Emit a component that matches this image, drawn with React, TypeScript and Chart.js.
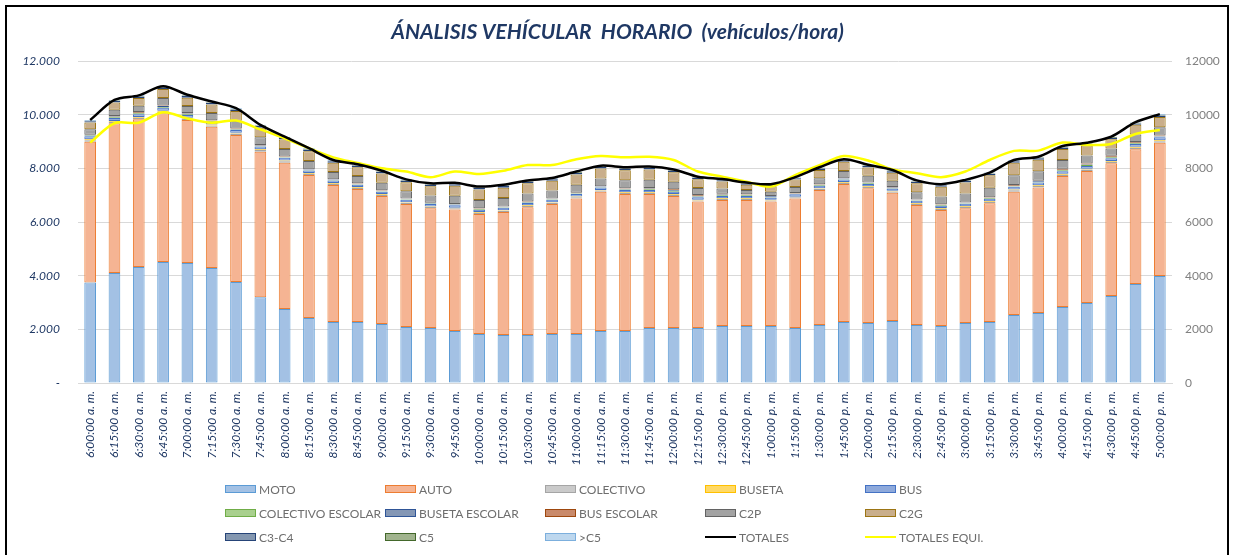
import React, { useEffect, useRef } from "react";
import { Chart, registerables } from "chart.js";

Chart.register(...registerables);

const FONT = "Lato, 'Open Sans', 'DejaVu Sans', sans-serif";
const NAVY = "#1F3864";

const categories = [
  "6:00:00 a. m.", "6:15:00 a. m.", "6:30:00 a. m.", "6:45:00 a. m.",
  "7:00:00 a. m.", "7:15:00 a. m.", "7:30:00 a. m.", "7:45:00 a. m.",
  "8:00:00 a. m.", "8:15:00 a. m.", "8:30:00 a. m.", "8:45:00 a. m.",
  "9:00:00 a. m.", "9:15:00 a. m.", "9:30:00 a. m.", "9:45:00 a. m.",
  "10:00:00 a. m.", "10:15:00 a. m.", "10:30:00 a. m.", "10:45:00 a. m.",
  "11:00:00 a. m.", "11:15:00 a. m.", "11:30:00 a. m.", "11:45:00 a. m.",
  "12:00:00 p. m.", "12:15:00 p. m.", "12:30:00 p. m.", "12:45:00 p. m.",
  "1:00:00 p. m.", "1:15:00 p. m.", "1:30:00 p. m.", "1:45:00 p. m.",
  "2:00:00 p. m.", "2:15:00 p. m.", "2:30:00 p. m.", "2:45:00 p. m.",
  "3:00:00 p. m.", "3:15:00 p. m.", "3:30:00 p. m.", "3:45:00 p. m.",
  "4:00:00 p. m.", "4:15:00 p. m.", "4:30:00 p. m.", "4:45:00 p. m.",
  "5:00:00 p. m.",
];

const moto = [3750, 4100, 4320, 4510, 4470, 4290, 3760, 3200, 2760, 2420, 2270, 2270, 2200, 2090, 2050, 1940, 1830, 1790, 1790, 1830, 1830, 1940, 1940, 2050, 2050, 2050, 2120, 2120, 2120, 2050, 2160, 2270, 2240, 2310, 2160, 2120, 2240, 2270, 2530, 2610, 2830, 2980, 3240, 3690, 3990];
const auto = [5240, 5580, 5510, 5540, 5330, 5260, 5480, 5420, 5450, 5330, 5110, 4960, 4770, 4580, 4460, 4530, 4470, 4580, 4760, 4840, 5050, 5190, 5100, 4990, 4920, 4710, 4700, 4700, 4640, 4830, 5030, 5150, 5020, 4780, 4470, 4330, 4270, 4430, 4600, 4680, 4880, 4920, 4950, 5020, 4960];
const colectivo = [60, 55, 55, 60, 55, 50, 55, 60, 55, 50, 50, 45, 45, 45, 45, 40, 45, 45, 45, 45, 45, 40, 40, 40, 45, 45, 40, 40, 40, 40, 45, 45, 45, 45, 45, 45, 50, 50, 50, 50, 55, 55, 55, 55, 60];
const buseta = [35, 30, 30, 35, 30, 30, 30, 30, 30, 25, 25, 25, 25, 25, 25, 25, 25, 25, 25, 25, 25, 25, 25, 25, 25, 25, 25, 25, 25, 25, 25, 25, 25, 25, 25, 25, 25, 25, 30, 30, 30, 30, 30, 35, 35];
const bus = [110, 110, 105, 110, 105, 100, 100, 100, 95, 95, 90, 90, 90, 90, 90, 90, 90, 90, 90, 90, 90, 90, 90, 90, 90, 90, 85, 85, 85, 85, 90, 90, 90, 90, 90, 90, 95, 95, 100, 100, 100, 105, 105, 110, 110];
const colectivoEscolar = [25, 30, 30, 35, 30, 25, 25, 25, 20, 20, 20, 20, 20, 20, 20, 20, 20, 20, 20, 20, 20, 20, 20, 25, 30, 30, 30, 25, 25, 20, 25, 25, 25, 20, 20, 20, 20, 20, 25, 25, 30, 30, 30, 25, 25];
const busetaEscolar = [20, 25, 25, 30, 25, 20, 20, 15, 15, 15, 15, 15, 15, 15, 15, 15, 15, 15, 15, 15, 15, 15, 20, 25, 30, 30, 25, 20, 20, 15, 15, 15, 15, 15, 15, 15, 15, 15, 20, 20, 25, 25, 25, 20, 20];
const busEscolar = [15, 20, 20, 25, 20, 15, 15, 15, 15, 15, 15, 15, 15, 15, 15, 15, 15, 15, 15, 15, 15, 15, 20, 25, 30, 30, 25, 20, 15, 15, 15, 15, 15, 15, 15, 15, 15, 15, 20, 25, 30, 35, 35, 25, 20];
const c2p = [200, 230, 240, 280, 260, 270, 290, 290, 280, 300, 270, 270, 280, 270, 270, 300, 310, 310, 300, 290, 300, 290, 300, 300, 280, 260, 200, 160, 160, 220, 230, 270, 250, 240, 270, 290, 330, 360, 370, 350, 330, 300, 270, 280, 310];
const c2g = [250, 270, 290, 330, 310, 320, 360, 360, 355, 370, 340, 335, 350, 335, 345, 375, 395, 390, 385, 365, 380, 370, 375, 390, 355, 325, 255, 195, 205, 280, 300, 340, 310, 300, 335, 360, 410, 460, 460, 430, 410, 370, 340, 360, 385];
const c3c4 = [50, 55, 55, 60, 60, 60, 60, 60, 60, 60, 60, 60, 60, 60, 60, 60, 60, 60, 60, 60, 60, 60, 60, 60, 60, 55, 50, 45, 45, 50, 55, 55, 55, 55, 55, 55, 55, 60, 60, 60, 60, 55, 55, 55, 55];
const c5 = [20, 20, 20, 20, 20, 20, 20, 20, 20, 20, 20, 20, 20, 20, 20, 20, 20, 20, 20, 20, 20, 20, 20, 20, 20, 20, 20, 15, 15, 15, 20, 20, 20, 20, 20, 20, 20, 20, 20, 20, 20, 20, 20, 20, 20];
const mayorC5 = [25, 25, 25, 25, 25, 25, 25, 25, 25, 25, 25, 25, 25, 25, 25, 25, 25, 25, 25, 25, 25, 25, 25, 25, 25, 25, 25, 20, 20, 20, 25, 25, 25, 25, 25, 25, 25, 25, 25, 25, 25, 25, 25, 25, 25];
const totales = [9800, 10550, 10720, 11060, 10740, 10490, 10240, 9620, 9180, 8750, 8310, 8150, 7910, 7590, 7440, 7460, 7320, 7390, 7550, 7640, 7880, 8100, 8040, 8070, 7960, 7690, 7600, 7470, 7410, 7670, 8040, 8340, 8130, 7940, 7550, 7410, 7570, 7840, 8310, 8430, 8830, 8950, 9180, 9720, 10020];
const totalesEqui = [8960, 9680, 9700, 10090, 9860, 9700, 9780, 9450, 9120, 8750, 8410, 8200, 8000, 7880, 7670, 7880, 7790, 7910, 8120, 8120, 8340, 8460, 8410, 8430, 8310, 7880, 7690, 7500, 7320, 7750, 8120, 8460, 8290, 7960, 7820, 7670, 7880, 8310, 8650, 8660, 8960, 8870, 8910, 9280, 9430];

const leftTickLabels = ["-", "2.000", "4.000", "6.000", "8.000", "10.000", "12.000"];
const rightTickLabels = ["0", "2000", "4000", "6000", "8000", "10000", "12000"];

const TITLE = "ÁNALISIS VEHÍCULAR  HORARIO  (vehículos/hora)";

type BarDef = { label: string; data: number[]; fill: string; border: string };

const barDefs: BarDef[] = [
  { label: "MOTO", data: moto, fill: "#A3C1E4", border: "#5B9BD5" },
  { label: "AUTO", data: auto, fill: "#F5B493", border: "#ED7D31" },
  { label: "COLECTIVO", data: colectivo, fill: "#CACACA", border: "#A5A5A5" },
  { label: "BUSETA", data: buseta, fill: "#FFD966", border: "#FFC000" },
  { label: "BUS", data: bus, fill: "#8EA9DB", border: "#4472C4" },
  { label: "COLECTIVO ESCOLAR", data: colectivoEscolar, fill: "#A9D08E", border: "#70AD47" },
  { label: "BUSETA ESCOLAR", data: busetaEscolar, fill: "#8497B5", border: "#2F5597" },
  { label: "BUS ESCOLAR", data: busEscolar, fill: "#C98A6B", border: "#9E480E" },
  { label: "C2P", data: c2p, fill: "#A3A3A3", border: "#636363" },
  { label: "C2G", data: c2g, fill: "#C9AE8B", border: "#9C7514" },
  { label: "C3-C4", data: c3c4, fill: "#8497B0", border: "#264478" },
  { label: "C5", data: c5, fill: "#A1B48E", border: "#43682B" },
  { label: ">C5", data: mayorC5, fill: "#BDD7EE", border: "#7CAFDD" },
];

const lineDefs = [
  { label: "TOTALES", data: totales, color: "#000000" },
  { label: "TOTALES EQUI.", data: totalesEqui, color: "#FFFF00" },
];

export default function App() {
  const ref = useRef<HTMLCanvasElement | null>(null);

  useEffect(() => {
    if (!ref.current) return;
    Chart.defaults.font.family = FONT;
    const datasets: any[] = [
      ...lineDefs.map((l) => ({
        type: "line",
        label: l.label,
        data: l.data,
        borderColor: l.color,
        backgroundColor: l.color,
        borderWidth: 2.5,
        pointRadius: 0,
        tension: 0.3,
        yAxisID: "y2",
        order: 0,
      })),
      ...barDefs.map((b) => ({
        type: "bar",
        label: b.label,
        data: b.data,
        backgroundColor: b.fill,
        borderColor: b.border,
        borderWidth: 1,
        borderSkipped: false,
        yAxisID: "y",
        stack: "v",
        order: 1,
        barPercentage: 0.48,
        categoryPercentage: 1,
      })),
    ];
    const chart = new Chart(ref.current, {
      type: "bar",
      data: { labels: categories, datasets },
      options: {
        responsive: false,
        animation: false,
        layout: { padding: 0 },
        plugins: {
          legend: { display: false },
          tooltip: { enabled: false },
          title: {
            display: true,
            text: TITLE,
            color: NAVY,
            font: { size: 21, weight: "bold", style: "italic", family: FONT },
            padding: { top: 19.4, bottom: 16.4 },
          },
        },
        scales: {
          x: {
            stacked: true,
            grid: { display: false, drawTicks: false },
            border: { display: true, color: "#D9D9D9" },
            ticks: {
              autoSkip: false,
              maxRotation: 90,
              minRotation: 90,
              padding: 8,
              color: NAVY,
              font: { size: 12, style: "italic", family: FONT },
            },
            afterFit: (s: any) => {
              s.height = 172;
            },
          },
          y: {
            stacked: true,
            min: 0,
            max: 12000,
            ticks: {
              stepSize: 2000,
              padding: 18,
              color: NAVY,
              font: { size: 12, style: "italic", family: FONT },
              callback: (_v: any, i: number) => leftTickLabels[i],
            },
            grid: { color: "#D9D9D9", drawTicks: false },
            border: { display: false },
            afterFit: (s: any) => {
              s.width = 78;
            },
          },
          y2: {
            position: "right",
            min: 0,
            max: 12000,
            ticks: {
              stepSize: 2000,
              padding: 13,
              color: "#808080",
              font: { size: 12, family: FONT },
              callback: (_v: any, i: number) => rightTickLabels[i],
            },
            grid: { display: false, drawTicks: false },
            border: { display: false },
            afterFit: (s: any) => {
              s.width = 63;
            },
          },
        },
      },
    });
    return () => chart.destroy();
  }, []);

  const legendItems = [
    ...barDefs.map((b) => ({ label: b.label, fill: b.fill, border: b.border, line: false })),
    ...lineDefs.map((l) => ({ label: l.label, fill: l.color, border: l.color, line: true })),
  ];

  return (
    <div
      style={{
        position: "fixed",
        left: 0,
        top: 0,
        width: 1235,
        height: 555,
        overflow: "hidden",
        background: "#ffffff",
      }}
    >
      <canvas ref={ref} width={1235} height={555} style={{ position: "absolute", left: 0, top: 0 }} />
      <div
        style={{
          position: "absolute",
          left: 5,
          top: 5,
          width: 1220,
          height: 620,
          border: "2px solid #000",
          pointerEvents: "none",
        }}
      />
      {legendItems.map((it, i) => {
        const col = i % 5;
        const row = Math.floor(i / 5);
        const x = 225 + col * 160;
        const y = 489 + row * 24;
        return (
          <div
            key={it.label}
            style={{
              position: "absolute",
              left: x,
              top: y - 9,
              height: 18,
              display: "flex",
              alignItems: "center",
              fontFamily: FONT,
              fontSize: 12,
              color: "#6E6E6E",
              whiteSpace: "pre",
            }}
          >
            {it.line ? (
              <span style={{ display: "inline-block", width: 31, height: 2, background: it.fill }} />
            ) : (
              <span
                style={{
                  display: "inline-block",
                  width: 29,
                  height: 6,
                  background: it.fill,
                  border: `1px solid ${it.border}`,
                }}
              />
            )}
            <span style={{ marginLeft: 3 }}>{it.label}</span>
          </div>
        );
      })}
    </div>
  );
}
